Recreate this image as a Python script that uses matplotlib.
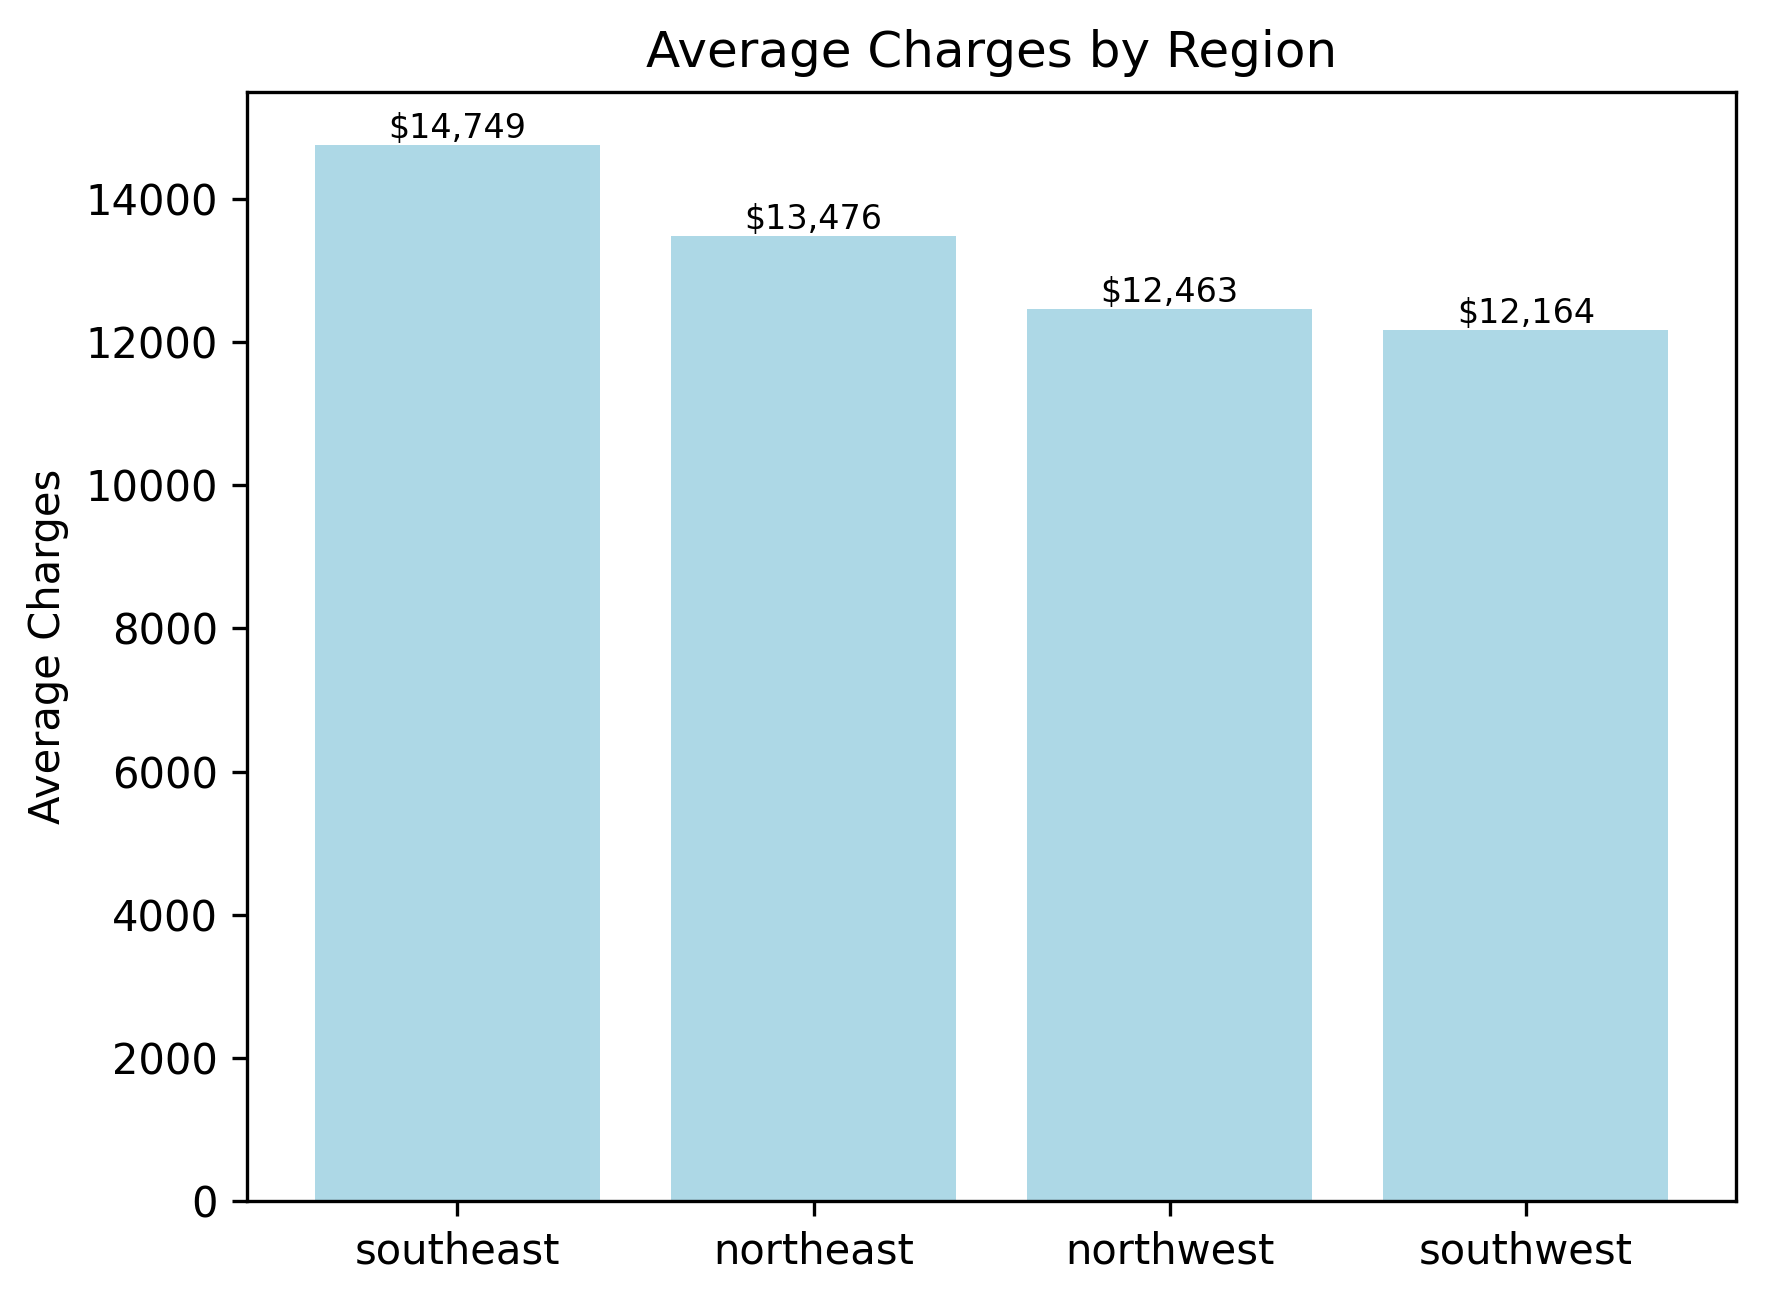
import matplotlib
matplotlib.use("Agg")
import matplotlib.pyplot as plt

# data
regions = ["southeast", "northeast", "northwest", "southwest"]
avg_charges = [14749, 13476, 12463, 12164]

fig = plt.figure(figsize=(1766 / 300, 1300 / 300), dpi=300)
ax = fig.add_axes([0.140, 0.076, 0.843, 0.853])

bars = ax.bar(regions, avg_charges, color="lightblue")
ax.bar_label(bars, labels=["${:,.0f}".format(v) for v in avg_charges], fontsize=8)

ax.set_title("Average Charges by Region")
ax.set_ylabel("Average Charges")

fig.savefig("out.png", dpi=300)
